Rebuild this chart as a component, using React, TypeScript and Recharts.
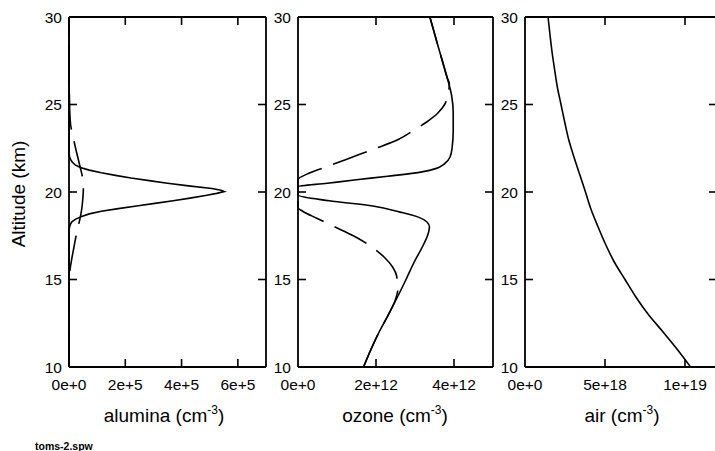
import { LineChart, Line, XAxis, YAxis, ReferenceLine } from 'recharts';

// altitude ticks shared by all three panels
const ALT_TICKS = [10, 15, 20, 25, 30];

// alumina, in units of 1e5 cm^-3
const ALUMINA_TICKS = [0, 2, 4, 6];
const ALUMINA_TICK_LABELS = ['0e+0', '2e+5', '4e+5', '6e+5'];
const ALUMINA_SOLID_ALT = [10, 17.8, 18.0, 18.15, 18.3, 18.45, 18.6, 18.75, 18.9, 19.05, 19.2, 19.35, 19.5, 19.65, 19.8, 19.92, 20.02, 20.1, 20.2, 20.35, 20.5, 20.65, 20.8, 20.95, 21.1, 21.25, 21.4, 21.55, 21.7, 21.85, 22.0, 22.2, 30];
const ALUMINA_SOLID = [0, 0, 0.02, 0.05, 0.1, 0.24, 0.45, 0.72, 1.15, 1.75, 2.4, 3.05, 3.7, 4.3, 4.85, 5.25, 5.52, 5.4, 5.08, 4.25, 3.5, 2.85, 2.2, 1.65, 1.15, 0.72, 0.4, 0.22, 0.12, 0.06, 0.02, 0, 0];
const ALUMINA_DASH_ALT = [10, 15.0, 15.6, 16.2, 16.8, 17.4, 17.9, 18.4, 19.0, 19.6, 20.2, 20.6, 21.0, 21.4, 22.0, 22.6, 23.2, 23.8, 24.5, 25.5, 26.5, 30];
const ALUMINA_DASH = [0, 0, 0.04, 0.1, 0.17, 0.24, 0.3, 0.38, 0.45, 0.49, 0.51, 0.5, 0.46, 0.4, 0.31, 0.22, 0.14, 0.06, 0.03, 0.015, 0, 0];

// ozone, in units of 1e12 cm^-3
const OZONE_TICKS = [0, 2, 4];
const OZONE_TICK_LABELS = ['0e+0', '2e+12', '4e+12'];
const OZONE_SOLID_ALT = [10, 11, 12, 13, 14, 15, 16, 17, 17.5, 18.0, 18.3, 18.55, 18.85, 19.2, 19.5, 19.83, 20.0, 20.3, 20.5, 20.7, 20.9, 21.15, 21.35, 21.6, 22.0, 22.5, 23.5, 24.5, 25.5, 26.5, 27.5, 28.5, 29.3, 30];
const OZONE_SOLID = [1.68, 1.87, 2.08, 2.32, 2.55, 2.77, 2.98, 3.22, 3.32, 3.37, 3.3, 3.1, 2.62, 1.92, 0.8, 0, 0, 0, 0.75, 1.5, 2.3, 3.18, 3.55, 3.75, 3.9, 3.95, 3.98, 3.98, 3.94, 3.83, 3.7, 3.57, 3.47, 3.38];
const OZONE_DASH_ALT = [10, 11, 12, 13, 13.8, 14.5, 15.2, 15.7, 16.3, 17.0, 17.5, 18.0, 18.5, 18.9, 19.1, 20.7, 21.1, 21.5, 22.0, 22.5, 23.0, 23.5, 24.0, 24.5, 25.0, 25.5, 26.2, 26.5, 27.5, 28.5, 29.3, 30];
const OZONE_DASH = [1.68, 1.87, 2.08, 2.32, 2.49, 2.56, 2.53, 2.43, 2.2, 1.8, 1.42, 0.95, 0.48, 0.12, 0, 0, 0.31, 0.8, 1.4, 2.0, 2.57, 2.95, 3.3, 3.58, 3.76, 3.84, 3.88, 3.83, 3.7, 3.57, 3.47, 3.38];

// air, in units of 1e18 cm^-3
const AIR_TICKS = [0, 5, 10];
const AIR_TICK_LABELS = ['0e+0', '5e+18', '1e+19'];
const AIR_ALT = [10, 11, 12, 13, 14, 15, 16, 17, 18, 19, 20, 21, 22, 23, 24, 25, 26, 27, 28, 29, 30];
const AIR = [10.35, 9.52, 8.63, 7.71, 6.93, 6.25, 5.58, 5.04, 4.57, 4.13, 3.78, 3.42, 3.06, 2.73, 2.48, 2.25, 2.02, 1.85, 1.69, 1.56, 1.44];

const FONT = '"Liberation Sans", Arial, Helvetica, sans-serif';
const W = 720;
const H = 451;
const TOP = 17;
const BOTTOM = 367;
const TICK = 8;

const zip = (alt: number[], v: number[]) => alt.map((a, i) => ({ alt: a, v: v[i] }));

interface Series { data: { alt: number; v: number }[]; dashed?: boolean; curve: 'linear' | 'monotone'; }
interface PanelProps { left: number; right: number; xMax: number; ticks: number[]; labels: string[]; series: Series[]; }

function Panel({ left, right, xMax, ticks, labels, series }: PanelProps) {
  // inward tick marks on all four sides, labels only left and bottom
  const XTick = (props: any) => {
    const { x, y, payload } = props;
    const v = Number(payload.value);
    return (
      <g>
        {v > 0 && <line x1={x} x2={x} y1={y} y2={y - TICK} stroke="#000" strokeWidth={1.6} />}
        {v > 0 && <line x1={x} x2={x} y1={TOP} y2={TOP + TICK} stroke="#000" strokeWidth={1.6} />}
        <text x={x} y={y + 23} textAnchor="middle" fontFamily={FONT} fontSize={15.5} fill="#000">
          {labels[ticks.indexOf(v)]}
        </text>
      </g>
    );
  };
  const YTick = (props: any) => {
    const { x, y, payload } = props;
    const v = Number(payload.value);
    const inner = v > 10 && v < 30;
    return (
      <g>
        {inner && <line x1={x} x2={x + TICK} y1={y} y2={y} stroke="#000" strokeWidth={1.6} />}
        {inner && <line x1={right - TICK} x2={right} y1={y} y2={y} stroke="#000" strokeWidth={1.6} />}
        <text x={x - 7} y={y + 5.5} textAnchor="end" fontFamily={FONT} fontSize={15.5} fill="#000">{v}</text>
      </g>
    );
  };
  return (
    <div style={{ position: 'absolute', left: 0, top: 0 }}>
      <LineChart width={W} height={H} layout="vertical" data={series[0].data}
        margin={{ top: TOP, bottom: H - BOTTOM - 30, left: left - 30, right: W - right }}>
        <XAxis type="number" domain={[0, xMax]} ticks={ticks} interval={0} height={30}
          tickLine={false} tickSize={0} tickMargin={0} tick={XTick}
          axisLine={{ stroke: '#000', strokeWidth: 1.8 }} />
        <YAxis type="number" dataKey="alt" domain={[10, 30]} ticks={ALT_TICKS} interval={0} width={30}
          reversed tickLine={false} tickSize={0} tickMargin={0} tick={YTick}
          axisLine={{ stroke: '#000', strokeWidth: 1.8 }} />
        <ReferenceLine y={30} stroke="#000" strokeWidth={1.8} />
        <ReferenceLine x={xMax} stroke="#000" strokeWidth={1.8} />
        {series.map((s, i) => (
          <Line key={i} data={s.data} dataKey="v" type={s.curve} stroke="#000" strokeWidth={1.6}
            strokeDasharray={s.dashed ? '36 12' : undefined} dot={false} activeDot={false}
            isAnimationActive={false} />
        ))}
      </LineChart>
    </div>
  );
}

const Title = ({ x, name }: { x: number; name: string }) => (
  <text x={x} y={422} textAnchor="middle" fontFamily={FONT} fontSize={19} fill="#000">
    {name} (cm<tspan fontSize={12} dy={-8}>-3</tspan><tspan fontSize={19} dy={8}>)</tspan>
  </text>
);

export default function App() {
  return (
    <div style={{ position: 'fixed', left: 0, top: 0, width: 715, height: 451, overflow: 'hidden', background: '#fff' }}>
      <Panel left={69} right={266} xMax={7} ticks={ALUMINA_TICKS} labels={ALUMINA_TICK_LABELS}
        series={[
          { data: zip(ALUMINA_SOLID_ALT, ALUMINA_SOLID), curve: 'linear' },
          { data: zip(ALUMINA_DASH_ALT, ALUMINA_DASH), curve: 'monotone', dashed: true },
        ]} />
      <Panel left={298} right={493} xMax={5} ticks={OZONE_TICKS} labels={OZONE_TICK_LABELS}
        series={[
          { data: zip(OZONE_SOLID_ALT, OZONE_SOLID), curve: 'monotone' },
          { data: zip(OZONE_DASH_ALT, OZONE_DASH), curve: 'monotone', dashed: true },
        ]} />
      <Panel left={525} right={717} xMax={12} ticks={AIR_TICKS} labels={AIR_TICK_LABELS}
        series={[{ data: zip(AIR_ALT, AIR), curve: 'monotone' }]} />
      <svg width={715} height={451} style={{ position: 'absolute', left: 0, top: 0, pointerEvents: 'none' }}>
        <text transform="translate(25,194) rotate(-90)" textAnchor="middle" fontFamily={FONT} fontSize={19} fill="#000">
          Altitude (km)
        </text>
        <Title x={164} name="alumina" />
        <Title x={395} name="ozone" />
        <Title x={622} name="air" />
        <text x={35} y={450} fontFamily={FONT} fontSize={10.5} fontWeight="bold" fill="#000">toms-2.spw</text>
      </svg>
    </div>
  );
}
